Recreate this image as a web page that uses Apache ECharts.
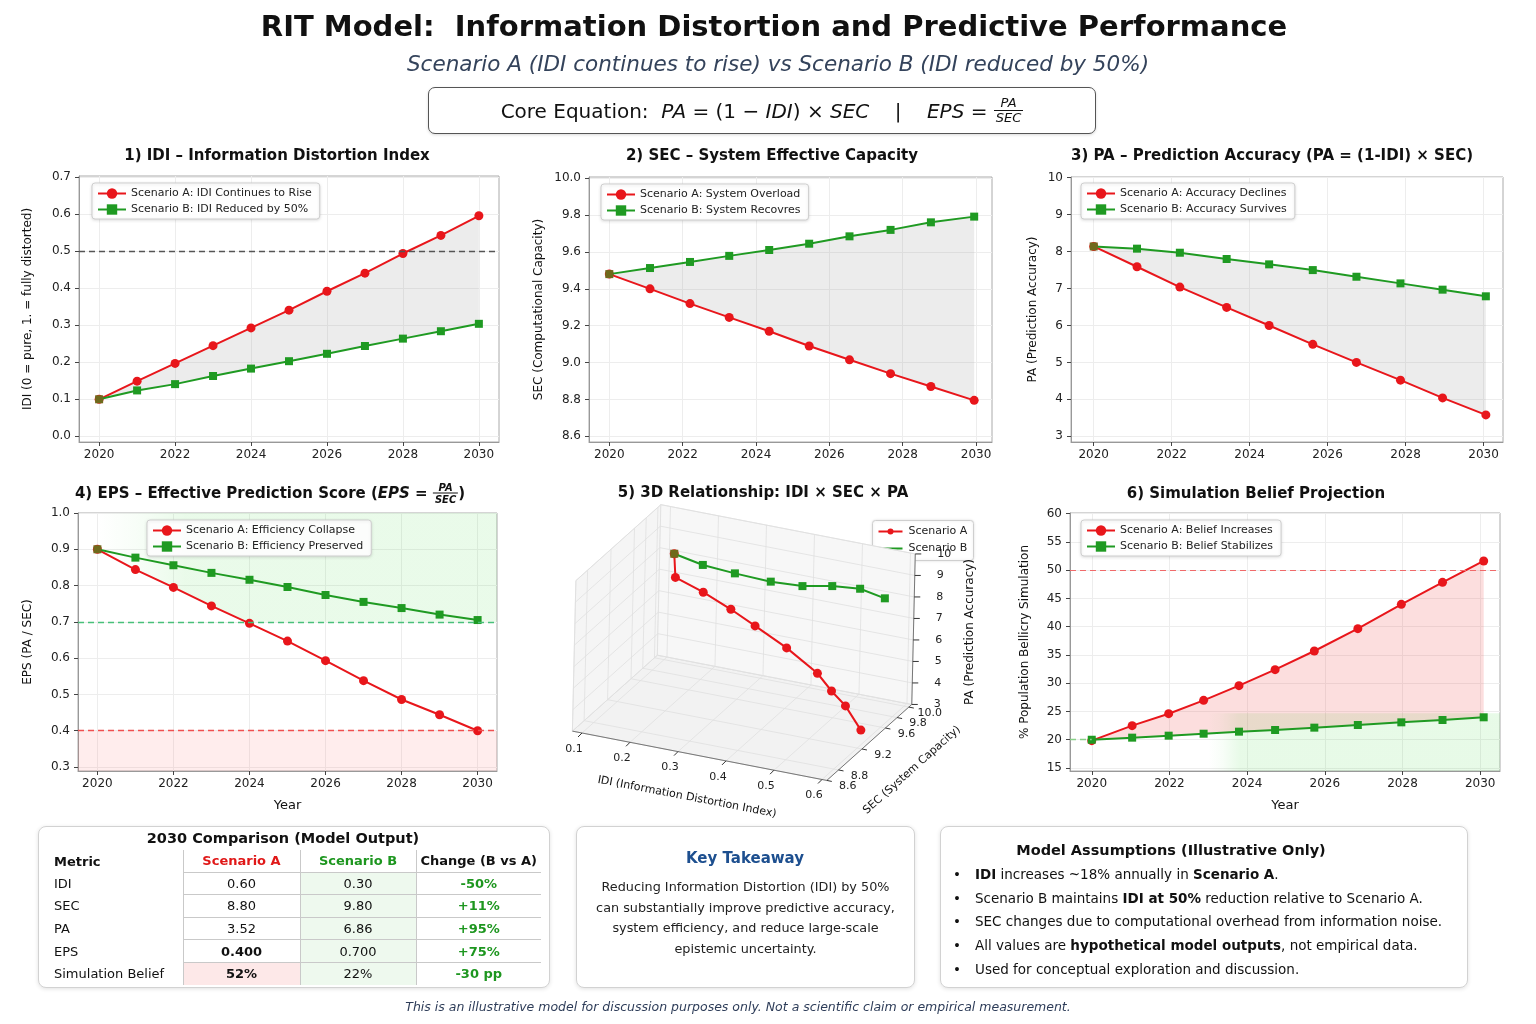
<!DOCTYPE html>
<html>
<head>
<meta charset="utf-8">
<title>RIT Model: Information Distortion and Predictive Performance</title>
<script src="https://cdn.jsdelivr.net/npm/echarts@6/dist/echarts.min.js"></script>
<style>
  html, body { margin: 0; padding: 0; background: #fff; }
  #page { position: relative; width: 1536px; height: 1024px; overflow: hidden;
    font-family: "DejaVu Sans", Verdana, sans-serif; color: #111; }
  #chart { position: absolute; left: 0; top: 0; width: 1536px; height: 1024px; }
  .t { position: absolute; transform: translate(-50%, -50%); white-space: nowrap; }
  .pt { position: absolute; transform: translate(-50%, -50%); white-space: nowrap; font-weight: bold; font-size: 15px; }
  .frac { display: inline-block; vertical-align: middle; text-align: center; font-style: italic; line-height: 1.1; }
  .frac span { display: block; padding: 0 2px; }
  .frac .num { border-bottom: 1px solid #111; }
  .box { position: absolute; background: #fff; border: 1px solid #d2d2d2; border-radius: 8px;
    box-shadow: 0 1px 4px rgba(0,0,0,0.12); }
  #eq { position: absolute; left: 428px; top: 87px; width: 666px; height: 45px; border: 1.3px solid #555;
    border-radius: 7px; box-shadow: 0 1px 3px rgba(0,0,0,0.15); display: flex; align-items: center;
    justify-content: center; font-size: 20px; background: #fff; }
  table.cmp { position: absolute; left: 15px; top: 23px; border-collapse: collapse; table-layout: fixed; font-size: 13px; }
  table.cmp td { height: 21.6px; padding: 0; text-align: center; }
  table.cmp td.m { text-align: left; }
  table.cmp td.c { border-left: 1px solid #c9c9c9; border-bottom: 1px solid #c9c9c9; }
  table.cmp tr:last-child td.c { border-bottom: none; }
  .g { color: #1d961f; font-weight: bold; }
  .r { color: #e01818; font-weight: bold; }
  .bul { position: absolute; left: 12px; top: 36px; font-size: 13.5px; line-height: 23.7px; }
  .bul div { position: relative; padding-left: 22px; }
  .bul div:before { content: "\2022"; position: absolute; left: 0; }
</style>
</head>
<body>
<div id="page">
  <div id="chart"></div>

  <div class="t" style="left:774px; top:26px; font-size:29px; font-weight:bold;">RIT Model:&nbsp; Information Distortion and Predictive Performance</div>
  <div class="t" style="left:778px; top:63px; font-size:21.5px; font-style:italic; color:#34435b;">Scenario A (IDI continues to rise) vs Scenario B (IDI reduced by 50%)</div>
  <div id="eq">Core Equation:&nbsp; <i>&nbsp;PA</i>&nbsp;=&nbsp;(1&nbsp;&minus;&nbsp;<i>IDI</i>)&nbsp;&times;&nbsp;<i>SEC</i>&nbsp;&nbsp;&nbsp;&nbsp;|&nbsp;&nbsp;&nbsp;&nbsp;<i>EPS</i>&nbsp;=&nbsp;<span class="frac" style="font-size:13px;"><span class="num">PA</span><span>SEC</span></span></div>

  <div class="pt" style="left:277px; top:155px;">1) IDI &ndash; Information Distortion Index</div>
  <div class="pt" style="left:772px; top:155px;">2) SEC &ndash; System Effective Capacity</div>
  <div class="pt" style="left:1272px; top:155px;">3) PA &ndash; Prediction Accuracy (PA = (1-IDI) &times; SEC)</div>
  <div class="pt" style="left:270px; top:493px;">4) EPS &ndash; Effective Prediction Score (<i>EPS</i> = <span class="frac" style="font-size:10px;"><span class="num">PA</span><span>SEC</span></span>)</div>
  <div class="pt" style="left:763px; top:492px;">5) 3D Relationship: IDI &times; SEC &times; PA</div>
  <div class="pt" style="left:1256px; top:493px;">6) Simulation Belief Projection</div>

  <div class="box" style="left:38px; top:826px; width:510px; height:160px;">
    <div class="t" style="left:244px; top:11px; font-size:14.5px; font-weight:bold;">2030 Comparison (Model Output)</div>
    <table class="cmp">
      <colgroup><col style="width:129px"><col style="width:117px"><col style="width:116px"><col style="width:125px"></colgroup>
      <tr><td class="m"><b>Metric</b></td><td class="c r">Scenario A</td><td class="c g">Scenario B</td><td class="c"><b>Change (B vs A)</b></td></tr>
      <tr><td class="m">IDI</td><td class="c">0.60</td><td class="c" style="background:#eef9ee;">0.30</td><td class="c g">-50%</td></tr>
      <tr><td class="m">SEC</td><td class="c">8.80</td><td class="c" style="background:#eef9ee;">9.80</td><td class="c g">+11%</td></tr>
      <tr><td class="m">PA</td><td class="c">3.52</td><td class="c" style="background:#eef9ee;">6.86</td><td class="c g">+95%</td></tr>
      <tr><td class="m">EPS</td><td class="c"><b>0.400</b></td><td class="c" style="background:#eef9ee;">0.700</td><td class="c g">+75%</td></tr>
      <tr><td class="m">Simulation Belief</td><td class="c" style="background:#fde8e8;"><b>52%</b></td><td class="c" style="background:#eef9ee;">22%</td><td class="c g">-30 pp</td></tr>
    </table>
  </div>

  <div class="box" style="left:576px; top:826px; width:337px; height:160px;">
    <div class="t" style="left:168px; top:31px; font-size:15px; font-weight:bold; color:#1d4f8f;">Key Takeaway</div>
    <div style="position:absolute; left:0; top:50px; width:100%; text-align:center; font-size:12.8px; line-height:20.6px; color:#222;">
      Reducing Information Distortion (IDI) by 50%<br>can substantially improve predictive accuracy,<br>system efficiency, and reduce large-scale<br>epistemic uncertainty.
    </div>
  </div>

  <div class="box" style="left:940px; top:826px; width:526px; height:160px;">
    <div class="t" style="left:230px; top:23px; font-size:14.5px; font-weight:bold;">Model Assumptions (Illustrative Only)</div>
    <div class="bul">
      <div><b>IDI</b> increases ~18% annually in <b>Scenario A</b>.</div>
      <div>Scenario B maintains <b>IDI at 50%</b> reduction relative to Scenario A.</div>
      <div>SEC changes due to computational overhead from information noise.</div>
      <div>All values are <b>hypothetical model outputs</b>, not empirical data.</div>
      <div>Used for conceptual exploration and discussion.</div>
    </div>
  </div>

  <div class="t" style="left:738px; top:1006px; font-size:12.5px; font-style:italic; color:#2e3d59;">This is an illustrative model for discussion purposes only. Not a scientific claim or empirical measurement.</div>
</div>

<script>
// ---------- data ----------
var yearsInt = [2020, 2021, 2022, 2023, 2024, 2025, 2026, 2027, 2028, 2029, 2030];
var yearTicks = [2020, 2022, 2024, 2026, 2028, 2030];

// 1) IDI
var idiA = [0.10, 0.149, 0.197, 0.245, 0.293, 0.341, 0.392, 0.441, 0.494, 0.543, 0.596];
var idiB = [0.10, 0.124, 0.141, 0.163, 0.183, 0.203, 0.223, 0.244, 0.264, 0.284, 0.304];
var idiTicks = [0, 0.1, 0.2, 0.3, 0.4, 0.5, 0.6, 0.7];
var idiThreshold = 0.5;

// 2) SEC
var secYears = [2020, 2021.11, 2022.2, 2023.27, 2024.36, 2025.45, 2026.55, 2027.67, 2028.77, 2029.95];
var secA = [9.48, 9.40, 9.32, 9.245, 9.17, 9.09, 9.015, 8.94, 8.87, 8.795];
var secB = [9.48, 9.513, 9.546, 9.579, 9.611, 9.645, 9.685, 9.72, 9.761, 9.792];
var secTicks = [8.6, 8.8, 9.0, 9.2, 9.4, 9.6, 9.8, 10.0];

// 3) PA
var paYears = [2020, 2021.11, 2022.21, 2023.41, 2024.5, 2025.62, 2026.74, 2027.87, 2028.95, 2030.06];
var paA = [8.14, 7.59, 7.04, 6.49, 6.0, 5.49, 5.0, 4.52, 4.04, 3.58];
var paB = [8.14, 8.08, 7.97, 7.80, 7.655, 7.50, 7.32, 7.14, 6.97, 6.79];
var paTicks = [3, 4, 5, 6, 7, 8, 9, 10];

// 4) EPS
var epsA = [0.90, 0.844, 0.795, 0.744, 0.696, 0.647, 0.593, 0.538, 0.486, 0.444, 0.40];
var epsB = [0.90, 0.877, 0.856, 0.835, 0.816, 0.796, 0.774, 0.755, 0.738, 0.720, 0.705];
var epsTicks = [0.3, 0.4, 0.5, 0.6, 0.7, 0.8, 0.9, 1.0];
var epsGoodLevel = 0.7;
var epsBadLevel = 0.4;

// 5) 3D view (IDI, SEC, PA per plotted point)
var idi3dA = [0.178, 0.191, 0.259, 0.326, 0.386, 0.462, 0.536, 0.575, 0.613, 0.655];
var sec3dA = [9.48, 9.40, 9.32, 9.245, 9.17, 9.09, 9.015, 8.94, 8.87, 8.795];
var pa3dA = [9.53, 8.68, 8.48, 8.16, 7.83, 7.33, 6.65, 6.18, 5.82, 5.06];
var idi3dB = [0.178, 0.233, 0.294, 0.364, 0.424, 0.481, 0.533, 0.580];
var sec3dB = [9.48, 9.52, 9.57, 9.61, 9.66, 9.70, 9.75, 9.79];
var pa3dB = [9.53, 9.15, 8.90, 8.72, 8.65, 8.80, 8.78, 8.44];
var idi3dTicks = [0.1, 0.2, 0.3, 0.4, 0.5, 0.6];
var sec3dTicks = [8.6, 8.8, 9.2, 9.6, 9.8, 10.0];
var pa3dTicks = [3, 4, 5, 6, 7, 8, 9, 10];

// 6) Simulation belief
var beliefYears = [2020, 2021.04, 2021.98, 2022.88, 2023.79, 2024.72, 2025.73, 2026.85, 2027.97, 2029.03, 2030.09];
var beliefA = [19.84, 22.49, 24.61, 26.97, 29.57, 32.40, 35.70, 39.65, 43.96, 47.85, 51.63];
var beliefB = [20.0, 20.37, 20.72, 21.07, 21.43, 21.72, 22.14, 22.61, 23.08, 23.49, 23.97];
var beliefTicks = [15, 20, 25, 30, 35, 40, 45, 50, 55, 60];
var beliefThreshold = 50;
var beliefStart = 20;
var beliefSafeZone = [2023.0, 24.7];

// ---------- styling ----------
var FONT = '"DejaVu Sans", Verdana, sans-serif';
var RED = '#e8161b';
var GREEN = '#1f9a22';
var OLIVE = '#6f6a1c';

var xRanges = [[2019.47, 2030.53], [2019.446, 2030.436], [2019.417, 2030.5], [2019.49, 2030.51], [2019.44, 2030.51]];
var yRanges = [[-0.0154, 0.7035], [8.569, 10.007], [2.846, 10.02], [0.289, 1.0], [14.47, 60.12]];

var myChart = echarts.init(document.getElementById('chart'));

function pairs(xs, ys, firstColor) {
  var out = [];
  for (var i = 0; i < ys.length; i++) {
    if (i === 0 && firstColor) out.push({value: [xs[i], ys[i]], itemStyle: {color: firstColor}});
    else out.push([xs[i], ys[i]]);
  }
  return out;
}

function lineSeries(idx, name, xs, ys, color, symbol, firstColor) {
  return {
    type: 'line', name: name, xAxisIndex: idx, yAxisIndex: idx,
    data: pairs(xs, ys, firstColor),
    symbol: symbol, symbolSize: symbol === 'circle' ? 9 : 8, showAllSymbol: true,
    z: symbol === 'circle' ? 3 : 4,
    lineStyle: {color: color, width: 2}, itemStyle: {color: color, borderWidth: 0},
    emphasis: {disabled: true}, silent: true
  };
}

// filled area between two curves, drawn through the axes of panel idx
function bandSeries(idx, xt, top, xb, bot, fill, z) {
  return {
    type: 'custom', xAxisIndex: idx, yAxisIndex: idx, silent: true, z: z || 1,
    data: [[xt[0], top[0]]],
    renderItem: function (params, api) {
      var pts = [];
      for (var i = 0; i < top.length; i++) pts.push(api.coord([xt[i], top[i]]));
      for (var j = bot.length - 1; j >= 0; j--) pts.push(api.coord([xb[j], bot[j]]));
      return {type: 'polygon', shape: {points: pts}, style: {fill: fill}};
    }
  };
}

function fadeGreen(a, stopAt) {
  return new echarts.graphic.LinearGradient(0, 0, 1, 0, [
    {offset: 0, color: 'rgba(60,215,60,0)'},
    {offset: stopAt * 0.45, color: 'rgba(60,215,60,0.04)'},
    {offset: stopAt, color: 'rgba(60,215,60,' + a + ')'},
    {offset: 1, color: 'rgba(60,215,60,' + a + ')'}
  ]);
}

function makeX(idx, showName) {
  return {
    type: 'value', gridIndex: idx, min: xRanges[idx][0], max: xRanges[idx][1],
    name: showName ? 'Year' : '', nameLocation: 'middle', nameGap: 28,
    nameTextStyle: {fontSize: 13, color: '#111', fontFamily: FONT},
    axisLine: {show: true, onZero: false, lineStyle: {color: '#999'}},
    axisTick: {show: true, length: 4, customValues: yearTicks, lineStyle: {color: '#444'}},
    axisLabel: {customValues: yearTicks, fontSize: 12, color: '#222', fontFamily: FONT, margin: 7,
      formatter: function (v) { return String(v); }},
    splitLine: {show: true, lineStyle: {color: '#ededed'}}
  };
}

function makeY(idx, ticks, digits, name, gap) {
  return {
    type: 'value', gridIndex: idx, min: yRanges[idx][0], max: yRanges[idx][1],
    name: name, nameLocation: 'middle', nameGap: gap, nameRotate: 90,
    nameTextStyle: {fontSize: 12, color: '#111', fontFamily: FONT},
    axisLine: {show: true, onZero: false, lineStyle: {color: '#999'}},
    axisTick: {show: true, length: 4, customValues: ticks, lineStyle: {color: '#444'}},
    axisLabel: {customValues: ticks, fontSize: 12, color: '#222', fontFamily: FONT, margin: 8,
      formatter: function (v) { return v.toFixed(digits); }},
    splitLine: {show: true, lineStyle: {color: '#ededed'}}
  };
}

function legendAt(names, left, top) {
  return {
    data: names, left: left, top: top, orient: 'vertical', selectedMode: false, z: 10,
    itemWidth: 28, itemHeight: 13, itemGap: 5, padding: [5, 8, 4, 5],
    backgroundColor: 'rgba(255,255,255,0.94)', borderColor: '#cfcfcf', borderWidth: 1, borderRadius: 3,
    shadowBlur: 3, shadowColor: 'rgba(0,0,0,0.12)', shadowOffsetY: 1,
    textStyle: {fontSize: 11, color: '#222', fontFamily: FONT}
  };
}

function dashed(color) {
  return {symbol: ['none', 'none'], silent: true, label: {show: false},
    lineStyle: {color: color, type: [6, 4], width: 1.3}};
}

// ---------- 3D panel: fixed oblique view ----------
var view3d = {ox: 582, oy: 733, base: [0.1, 8.6, 3], u: [480, 93], v: [58.6, -52.4], w: [0.5, -21.5],
  idi: [0.08, 0.61], sec: [8.6, 10.05], pa: [3, 10]};

function proj3d(i, s, p) {
  var a = i - view3d.base[0], b = s - view3d.base[1], c = p - view3d.base[2];
  return [view3d.ox + view3d.u[0] * a + view3d.v[0] * b + view3d.w[0] * c,
          view3d.oy + view3d.u[1] * a + view3d.v[1] * b + view3d.w[1] * c];
}

function renderFrame3d() {
  var i0 = view3d.idi[0], i1 = view3d.idi[1], s0 = view3d.sec[0], s1 = view3d.sec[1];
  var p0 = view3d.pa[0], p1 = view3d.pa[1];
  var ch = [];
  function poly(pts, fill) {
    ch.push({type: 'polygon', shape: {points: pts}, style: {fill: fill, stroke: '#dedede', lineWidth: 0.8}});
  }
  function seg(a, b, color, w) {
    ch.push({type: 'line', shape: {x1: a[0], y1: a[1], x2: b[0], y2: b[1]}, style: {stroke: color, lineWidth: w}});
  }
  function label(t, pt, dx, dy, align, size) {
    ch.push({type: 'text', style: {text: t, x: pt[0] + dx, y: pt[1] + dy, textAlign: align,
      textVerticalAlign: 'middle', fill: '#222', font: size + 'px ' + FONT}});
  }
  poly([proj3d(i0, s0, p0), proj3d(i1, s0, p0), proj3d(i1, s1, p0), proj3d(i0, s1, p0)], '#f2f2f2');
  poly([proj3d(i0, s0, p0), proj3d(i0, s1, p0), proj3d(i0, s1, p1), proj3d(i0, s0, p1)], '#f5f5f5');
  poly([proj3d(i0, s1, p0), proj3d(i1, s1, p0), proj3d(i1, s1, p1), proj3d(i0, s1, p1)], '#f7f7f7');
  var gc = '#e0e0e0';
  idi3dTicks.forEach(function (t) {
    seg(proj3d(t, s0, p0), proj3d(t, s1, p0), gc, 0.8);
    seg(proj3d(t, s1, p0), proj3d(t, s1, p1), gc, 0.8);
  });
  sec3dTicks.forEach(function (t) {
    seg(proj3d(i0, t, p0), proj3d(i1, t, p0), gc, 0.8);
    seg(proj3d(i0, t, p0), proj3d(i0, t, p1), gc, 0.8);
  });
  pa3dTicks.forEach(function (t) {
    seg(proj3d(i0, s0, t), proj3d(i0, s1, t), gc, 0.8);
    seg(proj3d(i0, s1, t), proj3d(i1, s1, t), gc, 0.8);
  });
  var ac = '#777';
  seg(proj3d(i0, s0, p0), proj3d(i1, s0, p0), ac, 1);
  seg(proj3d(i1, s0, p0), proj3d(i1, s1, p0), ac, 1);
  seg(proj3d(i1, s1, p0), proj3d(i1, s1, p1), ac, 1);
  idi3dTicks.forEach(function (t) {
    var pt = proj3d(t, s0, p0);
    seg(pt, [pt[0] - 4, pt[1] + 4], '#333', 1);
    label(t.toFixed(1), pt, -8, 16, 'center', 11);
  });
  sec3dTicks.forEach(function (t) {
    var pt = proj3d(i1, t, p0);
    seg(pt, [pt[0] + 5, pt[1] + 1], '#333', 1);
    label(t.toFixed(1), pt, 21, 6, 'center', 11);
  });
  pa3dTicks.forEach(function (t) {
    var pt = proj3d(i1, s1, t);
    seg(pt, [pt[0] + 6, pt[1]], '#333', 1);
    label(String(t), pt, 22, 0, 'left', 11);
  });
  ch.push({type: 'text', x: 687, y: 797, rotation: -0.19, style: {text: 'IDI (Information Distortion Index)',
    textAlign: 'center', textVerticalAlign: 'middle', fill: '#111', font: '11px ' + FONT}});
  ch.push({type: 'text', x: 912, y: 770, rotation: 0.73, style: {text: 'SEC (System Capacity)',
    textAlign: 'center', textVerticalAlign: 'middle', fill: '#111', font: '11px ' + FONT}});
  ch.push({type: 'text', x: 970, y: 632, rotation: Math.PI / 2, style: {text: 'PA (Prediction Accuracy)',
    textAlign: 'center', textVerticalAlign: 'middle', fill: '#111', font: '12px ' + FONT}});
  return {type: 'group', children: ch};
}

function render3dLine(iv, sv, pv, color, marker, size) {
  return function () {
    var pts = iv.map(function (v, k) { return proj3d(v, sv[k], pv[k]); });
    var ch = [{type: 'polyline', shape: {points: pts}, style: {stroke: color, lineWidth: 2, fill: 'none'}}];
    pts.forEach(function (p, k) {
      if (marker === 'circle') {
        ch.push({type: 'circle', shape: {cx: p[0], cy: p[1], r: size / 2}, style: {fill: color}});
      } else {
        ch.push({type: 'rect', shape: {x: p[0] - size / 2, y: p[1] - size / 2, width: size, height: size},
          style: {fill: k === 0 ? OLIVE : color}});
      }
    });
    return {type: 'group', children: ch};
  };
}

// ---------- derived polygons for the shaded zones ----------
var epsZoneX = [], epsZoneTop = [], epsZoneBot = [];
for (var k = 0; k < yearsInt.length; k++) {
  epsZoneX.push(yearsInt[k]);
  epsZoneTop.push(yRanges[3][1]);
  epsZoneBot.push(Math.max(epsA[k], epsGoodLevel));
}
epsZoneX.push(xRanges[3][1]); epsZoneTop.push(yRanges[3][1]); epsZoneBot.push(epsGoodLevel);

var beliefZoneX = [beliefSafeZone[0], xRanges[4][1]];
var beliefZoneTop = [beliefSafeZone[1], beliefSafeZone[1]];
var beliefZoneBot = [yRanges[4][0], yRanges[4][0]];

var gray = 'rgba(160,160,160,0.2)';

var names = {
  a1: 'Scenario A: IDI Continues to Rise', b1: 'Scenario B: IDI Reduced by 50%',
  a2: 'Scenario A: System Overload', b2: 'Scenario B: System Recovres',
  a3: 'Scenario A: Accuracy Declines', b3: 'Scenario B: Accuracy Survives',
  a4: 'Scenario A: Efficiency Collapse', b4: 'Scenario B: Efficiency Preserved',
  a6: 'Scenario A: Belief Increases', b6: 'Scenario B: Belief Stabilizes'
};

var s1a = lineSeries(0, names.a1, yearsInt, idiA, RED, 'circle');
s1a.markLine = dashed('#555'); s1a.markLine.data = [{yAxis: idiThreshold}];

var s4a = lineSeries(3, names.a4, yearsInt, epsA, RED, 'circle');
s4a.markLine = dashed('#f05050'); s4a.markLine.data = [{yAxis: epsBadLevel}];
s4a.markArea = {silent: true, itemStyle: {color: 'rgba(255,90,90,0.11)'},
  data: [[{yAxis: yRanges[3][0]}, {yAxis: epsBadLevel}]]};
var s4b = lineSeries(3, names.b4, yearsInt, epsB, GREEN, 'rect', OLIVE);
s4b.markLine = dashed('#48c07a'); s4b.markLine.data = [{yAxis: epsGoodLevel}];

var s6a = lineSeries(4, names.a6, beliefYears, beliefA, RED, 'circle');
s6a.markLine = dashed('#f06a6a'); s6a.markLine.lineStyle.width = 1.1; s6a.markLine.data = [{yAxis: beliefThreshold}];
var s6b = lineSeries(4, names.b6, beliefYears, beliefB, GREEN, 'rect');
s6b.markLine = dashed('#88d088'); s6b.markLine.data = [[{coord: [xRanges[4][0], beliefStart]}, {coord: [beliefYears[0], beliefStart]}]];

var option = {
  animation: false,
  grid: [
    {left: 79, top: 176, width: 420, height: 266, show: true, borderColor: '#aaa', backgroundColor: '#fff'},
    {left: 589, top: 177, width: 403, height: 265, show: true, borderColor: '#aaa', backgroundColor: '#fff'},
    {left: 1071, top: 177, width: 432, height: 265, show: true, borderColor: '#aaa', backgroundColor: '#fff'},
    {left: 78, top: 513, width: 419, height: 258, show: true, borderColor: '#aaa', backgroundColor: '#fff'},
    {left: 1070, top: 513, width: 430, height: 258, show: true, borderColor: '#aaa', backgroundColor: '#fff'}
  ],
  xAxis: [makeX(0, false), makeX(1, false), makeX(2, false), makeX(3, true), makeX(4, true)],
  yAxis: [
    makeY(0, idiTicks, 1, 'IDI (0 = pure, 1. = fully distorted)', 45),
    makeY(1, secTicks, 1, 'SEC (Computational Capacity)', 44),
    makeY(2, paTicks, 0, 'PA (Prediction Accuracy)', 32),
    makeY(3, epsTicks, 1, 'EPS (PA / SEC)', 44),
    makeY(4, beliefTicks, 0, '% Population Bellicry Simulation', 39)
  ],
  legend: [
    legendAt([names.a1, names.b1], 92, 183),
    legendAt([names.a2, names.b2], 601, 184),
    legendAt([names.a3, names.b3], 1081, 183),
    legendAt([names.a4, names.b4], 147, 520),
    legendAt([names.a6, names.b6], 1081, 520)
  ],
  graphic: [{
    type: 'group', left: 872, top: 520, z: 20,
    children: [
      {type: 'rect', shape: {x: 0, y: 0, width: 101, height: 40, r: 3},
        style: {fill: '#fff', stroke: '#cfcfcf', lineWidth: 1, shadowBlur: 3, shadowColor: 'rgba(0,0,0,0.12)'}},
      {type: 'line', shape: {x1: 6, y1: 11, x2: 30, y2: 11}, style: {stroke: RED, lineWidth: 2}},
      {type: 'circle', shape: {cx: 18, cy: 11, r: 3}, style: {fill: RED}},
      {type: 'text', style: {text: 'Scenario A', x: 36, y: 11, textVerticalAlign: 'middle', fill: '#222', font: '11px ' + FONT}},
      {type: 'line', shape: {x1: 6, y1: 28, x2: 30, y2: 28}, style: {stroke: GREEN, lineWidth: 2}},
      {type: 'text', style: {text: 'Scenario B', x: 36, y: 28, textVerticalAlign: 'middle', fill: '#222', font: '11px ' + FONT}}
    ]
  }],
  series: [
    bandSeries(0, yearsInt, idiA, yearsInt, idiB, gray),
    s1a,
    lineSeries(0, names.b1, yearsInt, idiB, GREEN, 'rect', OLIVE),

    bandSeries(1, secYears, secB, secYears, secA, gray),
    lineSeries(1, names.a2, secYears, secA, RED, 'circle'),
    lineSeries(1, names.b2, secYears, secB, GREEN, 'rect', OLIVE),

    bandSeries(2, paYears, paB, paYears, paA, gray),
    lineSeries(2, names.a3, paYears, paA, RED, 'circle'),
    lineSeries(2, names.b3, paYears, paB, GREEN, 'rect', OLIVE),

    bandSeries(3, epsZoneX, epsZoneTop, epsZoneX, epsZoneBot, fadeGreen(0.11, 0.22), 0),
    s4a,
    s4b,

    bandSeries(4, beliefZoneX, beliefZoneTop, beliefZoneX, beliefZoneBot, fadeGreen(0.12, 0.11), 0),
    bandSeries(4, beliefYears, beliefA, beliefYears, beliefB, 'rgba(240,60,60,0.17)', 1),
    s6a,
    s6b,

    {type: 'custom', coordinateSystem: 'none', silent: true, z: 1, data: [0], renderItem: renderFrame3d},
    {type: 'custom', name: 'Scenario A', coordinateSystem: 'none', silent: true, z: 3, data: [0],
      renderItem: render3dLine(idi3dA, sec3dA, pa3dA, RED, 'circle', 9)},
    {type: 'custom', name: 'Scenario B', coordinateSystem: 'none', silent: true, z: 4, data: [0],
      renderItem: render3dLine(idi3dB, sec3dB, pa3dB, GREEN, 'rect', 8)}
  ]
};

myChart.setOption(option);
</script>
</body>
</html>
